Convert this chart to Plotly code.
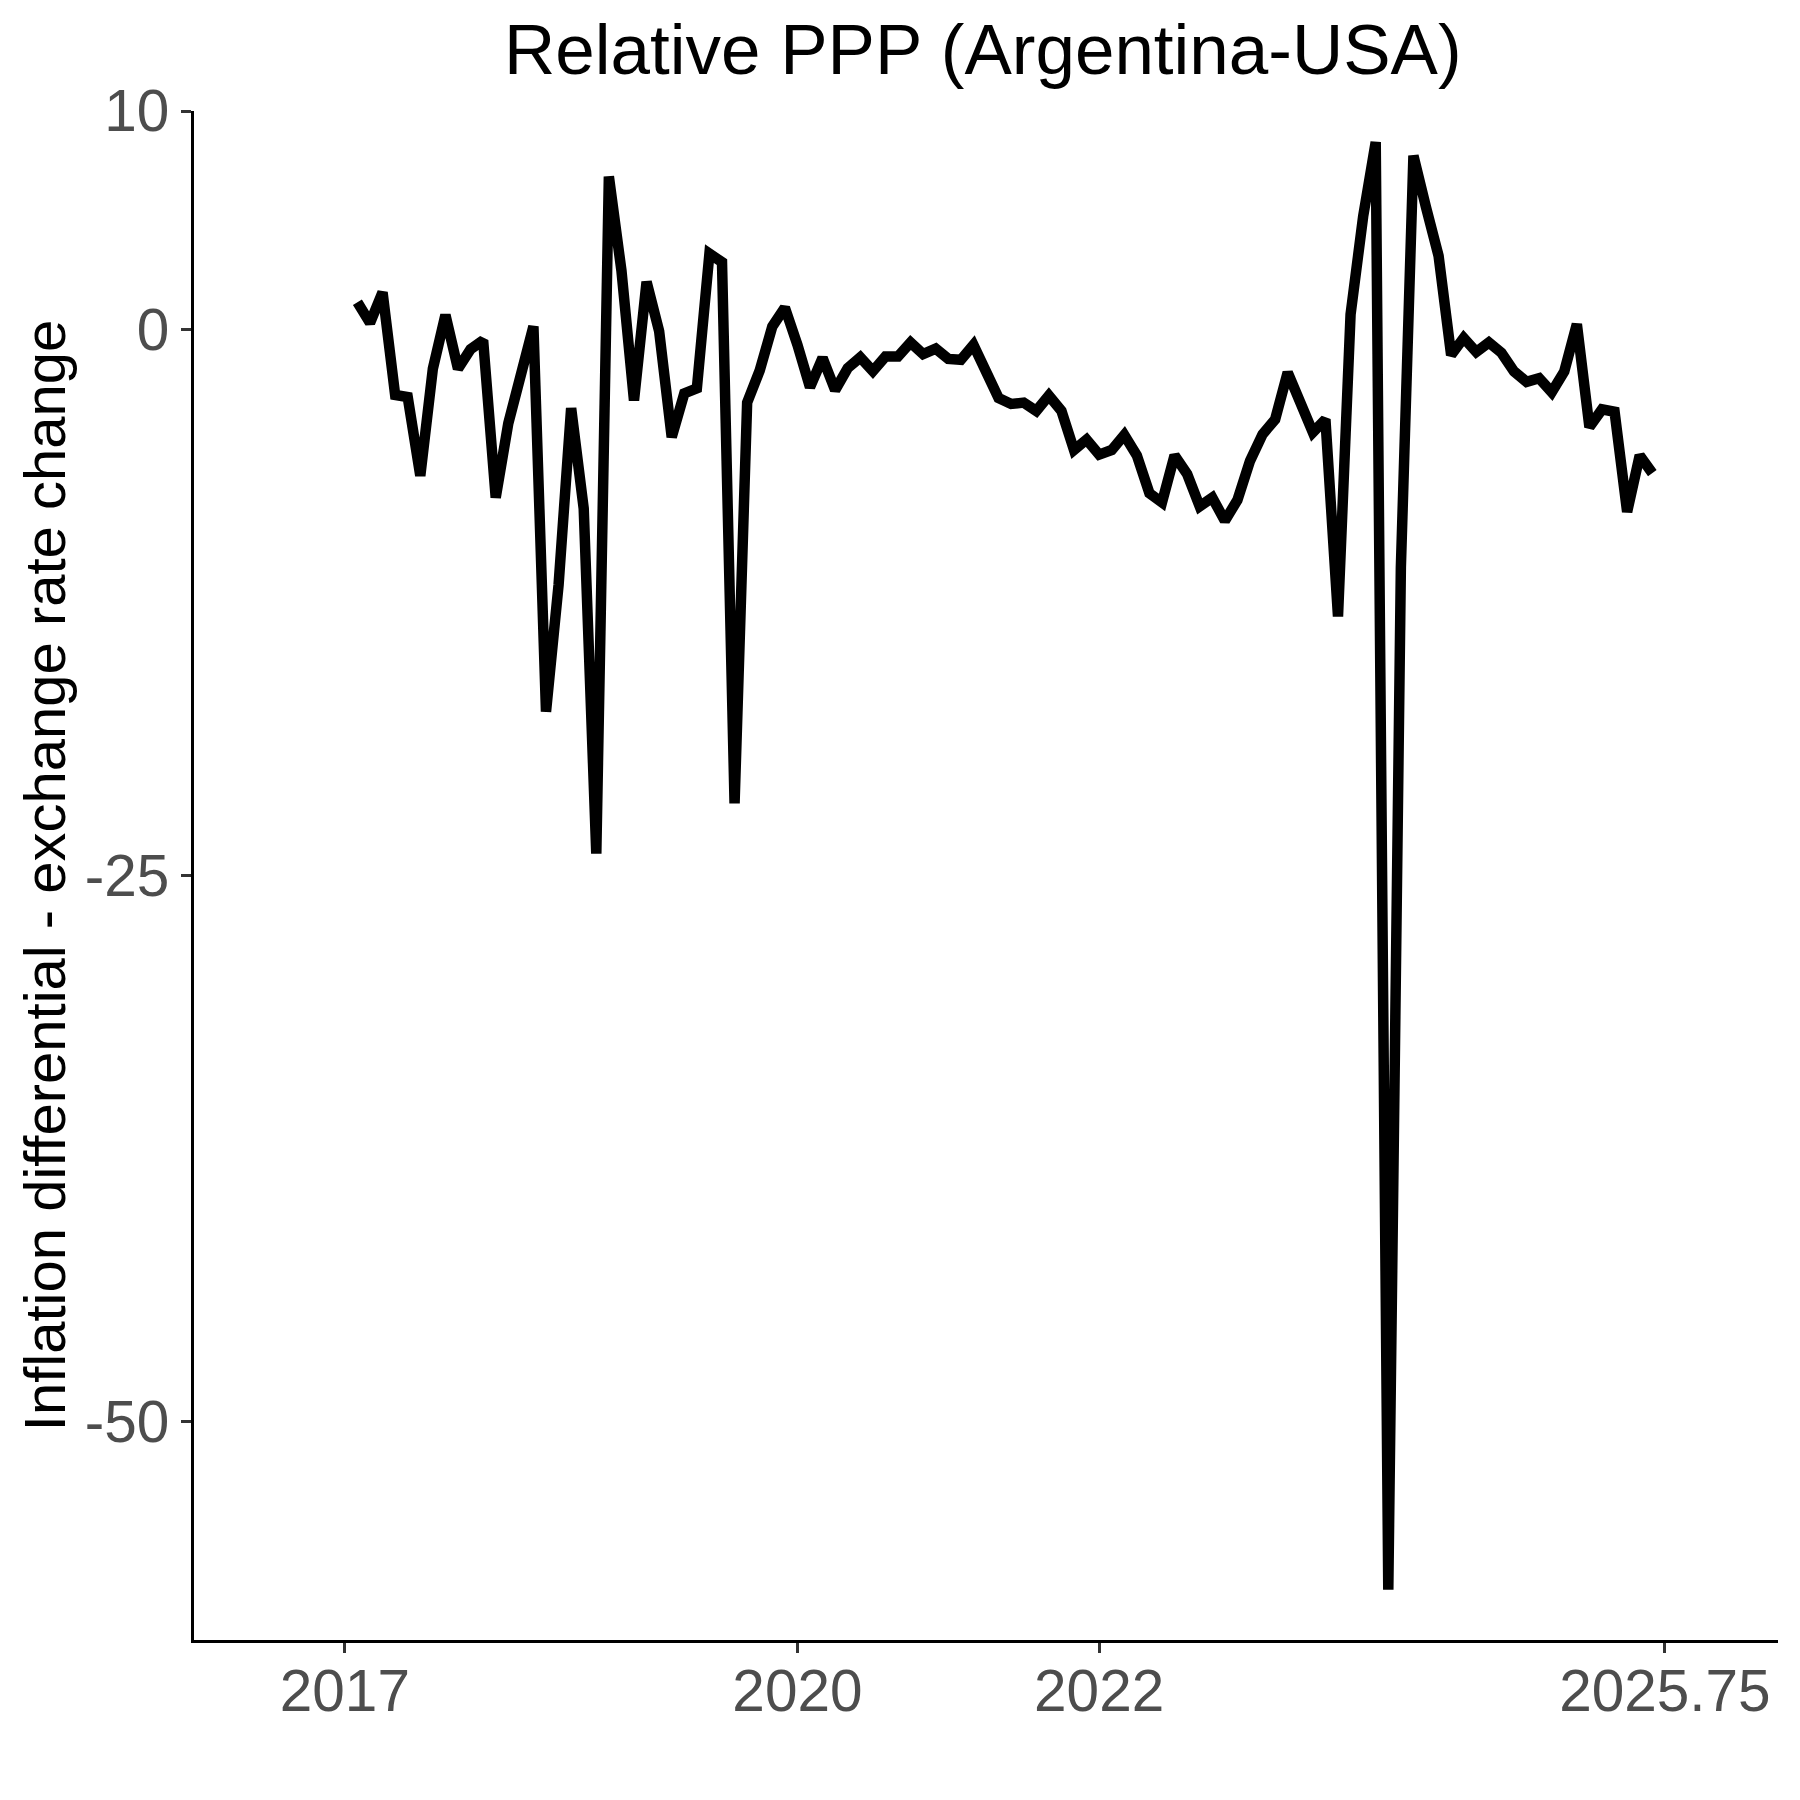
''' relative PPP check for Argentina vs USA: monthly inflation differential
minus the change in the exchange rate, plotted as a single black line '''

import pandas as pd
import plotly.graph_objects as go

# monthly observations, Feb 2017 -> Sep 2025
months = pd.date_range("2017-02-01", "2025-09-01", freq="MS")

# inflation differential - exchange rate change (percentage points)
ppp_gap = [
    1.24, 0.3, 1.7, -3.0, -3.1, -6.7, -1.8, 0.66, -1.8, -0.9, -0.5, -7.7,
    -4.3, -2.1, 0.14, -17.5, -11.7, -3.6, -8.2, -24.0, 7.0, 2.7, -3.25,
    2.18, -0.08, -4.93, -2.93, -2.7, 3.47, 3.08, -21.7, -3.35, -1.88, 0.13,
    1.0, -0.7, -2.65, -1.3, -2.78, -1.77, -1.28, -1.91, -1.24, -1.24, -0.6,
    -1.13, -0.88, -1.35, -1.39, -0.71, -1.91, -3.14, -3.41, -3.35, -3.73,
    -3.03, -3.73, -5.52, -5.04, -5.73, -5.52, -4.83, -5.77, -7.5, -7.92,
    -5.77, -6.62, -8.1, -7.7, -8.76, -7.81, -6.02, -4.8, -4.12, -1.97, -3.23,
    -4.71, -4.12, -13.14, 0.69, 5.17, 8.58, -57.7, -10.9, 7.95, 5.59, 3.37,
    -1.17, -0.39, -1.03, -0.6, -1.07, -1.92, -2.4, -2.23, -2.87, -1.92, 0.24,
    -4.47, -3.66, -3.77, -8.35, -5.77, -6.58,
]

# axis breaks as they appear on the chart
x_ticks = [2017, 2020, 2022, 2025.75]
x_labels = ["2017", "2020", "2022", "2025.75"]
y_ticks = [10, 0, -25, -50]
y_labels = ["10", "0", "-25", "-50"]

# decimal year for each month (x axis is numeric)
year_frac = months.year + (months.month - 1) / 12

FONT = "Liberation Sans, Arial, sans-serif"

trace1 = {
    'x': year_frac,
    'y': ppp_gap,
    'type': 'scatter',
    'mode': 'lines',
    'line': {'color': 'black', 'width': 10.5},
    'showlegend': False,
}

axis_style = {
    'showgrid': False,
    'zeroline': False,
    'showline': True,
    'linecolor': 'black',
    'linewidth': 3,
    'ticks': 'outside',
    'ticklen': 10,
    'tickwidth': 3,
    'tickcolor': '#333333',
    'tickfont': {'size': 58.5, 'color': '#4D4D4D', 'family': FONT},
}

layout = go.Layout({
    'width': 1800,
    'height': 1800,
    'margin': {'l': 186, 'r': 30, 't': 103, 'b': 168},
    'plot_bgcolor': 'white',
    'paper_bgcolor': 'white',
    'font': {'family': FONT},
    'title': {
        'text': 'Relative PPP (Argentina-USA)',
        'font': {'size': 71, 'color': 'black', 'family': FONT},
        'x': 0.498,
        'xref': 'paper',
        'xanchor': 'center',
        'y': 1 - 41 / 1800,
        'yref': 'container',
        'yanchor': 'middle',
    },
    'xaxis': dict(axis_style, range=[2016, 2026.5],
                  tickvals=x_ticks, ticktext=x_labels,
                  ticklabelstandoff=-12),
    'yaxis': dict(axis_style, range=[-60, 10],
                  tickvals=y_ticks, ticktext=y_labels),
    'annotations': [{
        'text': 'Inflation differential - exchange rate change',
        'textangle': -90,
        'xref': 'paper', 'yref': 'paper',
        'x': -0.0943, 'y': 0.5,
        'xanchor': 'center', 'yanchor': 'middle',
        'showarrow': False,
        'font': {'size': 58, 'color': 'black', 'family': FONT},
    }],
})

fig = go.Figure(data=[trace1], layout=layout)
fig.write_html("out.html")
